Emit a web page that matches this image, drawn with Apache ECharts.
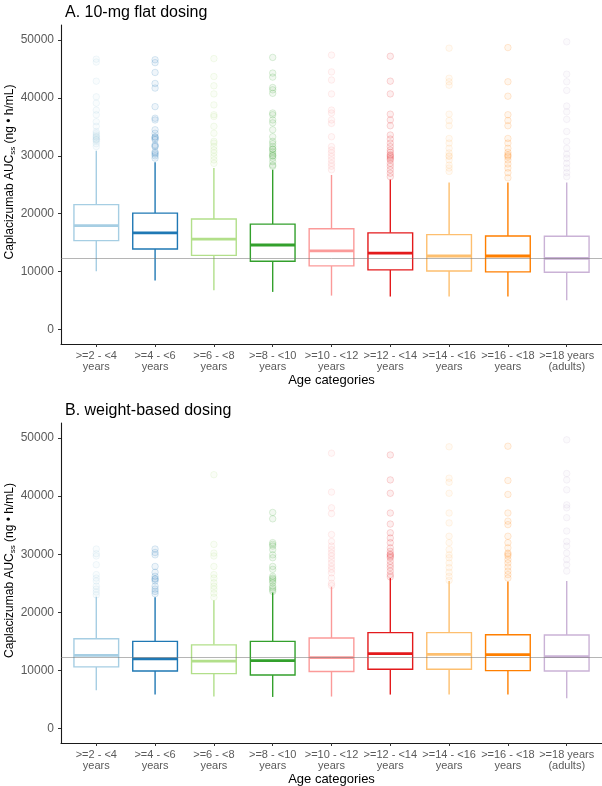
<!DOCTYPE html>
<html>
<head>
<meta charset="utf-8">
<script src="https://cdn.jsdelivr.net/npm/echarts@6/dist/echarts.min.js"></script>
<style>
html,body{margin:0;padding:0;background:#fff;}
#chart{width:602px;height:786px;}
</style>
</head>
<body>
<div id="chart"></div>
<script>
// ---------- data ----------
const categories = ['>=2 - <4\nyears', '>=4 - <6\nyears', '>=6 - <8\nyears', '>=8 - <10\nyears',
  '>=10 - <12\nyears', '>=12 - <14\nyears', '>=14 - <16\nyears', '>=16 - <18\nyears', '>=18 years\n(adults)'];

// [lower whisker, Q1, median, Q3, upper whisker]
const boxFlat = [
  [10050, 15350, 17950, 21580, 30900],
  [8450, 13900, 16700, 20100, 28900],
  [6800, 12800, 15600, 19100, 27900],
  [6500, 11800, 14600, 18200, 27600],
  [5860, 11000, 13600, 17400, 26700],
  [5700, 10300, 13200, 16700, 25900],
  [5700, 10100, 12700, 16400, 25400],
  [5700, 9950, 12700, 16150, 25400],
  [5050, 9900, 12300, 16100, 25400]
];
const boxWeight = [
  [6600, 10600, 12600, 15460, 22700],
  [5840, 9900, 12000, 15000, 22600],
  [5500, 9450, 11600, 14400, 22100],
  [5430, 9200, 11700, 15000, 23400],
  [5500, 9800, 12200, 15570, 24400],
  [5840, 10200, 12900, 16500, 25900],
  [5840, 10200, 12770, 16500, 25400],
  [5840, 9960, 12700, 16150, 25300],
  [5200, 9900, 12370, 16100, 25400]
];

const outFlat = [
  [46700, 46200, 42900, 40200, 39100, 37900, 37100, 35900, 35100, 34200, 33900, 33600, 33300, 33000, 32800, 32500, 32100, 31600, 33300, 32800],
  [46600, 46100, 44400, 42500, 41700, 38500, 36500, 36200, 34500, 33900, 33300, 33000, 32800, 31900, 31600, 30700, 30300, 30000, 29600, 33200, 31700, 30500],
  [46800, 43700, 42100, 40700, 38800, 37100, 36800, 35100, 33900, 32500, 32200, 31600, 31000, 30500, 29900, 29300, 28700],
  [47000, 44300, 43600, 41800, 41400, 40800, 37400, 37100, 36200, 35700, 34500, 33300, 32500, 32100, 31600, 31100, 30700, 30300, 30000, 29600, 29000, 28400, 28200, 30000, 31200],
  [47400, 44500, 43100, 40700, 37900, 37400, 36200, 35600, 33300, 31600, 31000, 30500, 29900, 29300, 28700, 28200, 27600],
  [47200, 42900, 40700, 37200, 36200, 35200, 33600, 32900, 32200, 31600, 31000, 30600, 30200, 29800, 29300, 28700, 28200, 27600, 27000, 26400, 30000, 29500],
  [48600, 43400, 42800, 42200, 37200, 36100, 35200, 33000, 32200, 31300, 30500, 29900, 29300, 28400, 27900, 27300, 30000],
  [48700, 42800, 40300, 37100, 36100, 35200, 33000, 32200, 31300, 30600, 30200, 29800, 29300, 28600, 27900, 27100, 26200, 30000],
  [49700, 44100, 42800, 41300, 38600, 37600, 36300, 34200, 32500, 31300, 30300, 29600, 28700, 27900, 27100, 26400]
];
const outWeight = [
  [30900, 30100, 29700, 28200, 26500, 25900, 25400, 24500, 24000, 23500, 23000],
  [30900, 30300, 29900, 27900, 26900, 26200, 25700, 25400, 24500, 24000, 23600, 23200, 25800],
  [43700, 31700, 30200, 29700, 27900, 26500, 25900, 25100, 24500, 24000, 23300, 22600],
  [37200, 36100, 32000, 31700, 31400, 30800, 29900, 29400, 27900, 27400, 26200, 25900, 25700, 25400, 25100, 24500, 24200, 23900, 23600],
  [47400, 40700, 38000, 37000, 33400, 32200, 31400, 30800, 30200, 29700, 29100, 28500, 27900, 27400, 26800, 25900, 25000, 24600],
  [47100, 42800, 40500, 37100, 35200, 33700, 32800, 32000, 31100, 30500, 29900, 29400, 28800, 28200, 27700, 27100, 26500, 26100, 30000, 29600],
  [48500, 43100, 42400, 40500, 37100, 35400, 33100, 32000, 30800, 29900, 29400, 28500, 27700, 26900, 26200, 25500],
  [48600, 42700, 40300, 37100, 35700, 35100, 33100, 32000, 31100, 30200, 29700, 29100, 28500, 27800, 27100, 26500, 25900, 30000],
  [49700, 43900, 42800, 41100, 38500, 38000, 36300, 34000, 32200, 31400, 30200, 29100, 28200, 27100]
];

const referenceValue = 12350;
const yTicks = [0, 10000, 20000, 30000, 40000, 50000];
const xTicks = [0, 1, 2, 3, 4, 5, 6, 7, 8];
const panelTitles = ['A. 10-mg flat dosing', 'B. weight-based dosing'];
const xTitle = 'Age categories';

// ---------- style ----------
const palette = ['#A6CEE3', '#1F78B4', '#B2DF8A', '#33A02C', '#FB9A99', '#E31A1C', '#FDBF6F', '#FF7F00', '#CAB2D6'];
const FONT = '"Liberation Sans", Helvetica, Arial, sans-serif';

function hexA(hex, a) {
  const n = parseInt(hex.slice(1), 16);
  return 'rgba(' + ((n >> 16) & 255) + ',' + ((n >> 8) & 255) + ',' + (n & 255) + ',' + a + ')';
}

function renderBox(params, api) {
  const i = api.value(0);
  const x = api.coord([i, 0])[0];
  const pLo = api.coord([i, api.value(1)])[1];
  const pQ1 = api.coord([i, api.value(2)])[1];
  const pMed = api.coord([i, api.value(3)])[1];
  const pQ3 = api.coord([i, api.value(4)])[1];
  const pHi = api.coord([i, api.value(5)])[1];
  const w = api.size([0.76, 0])[0];
  const c = palette[i];
  const lw = 1.4;
  return {
    type: 'group',
    children: [
      {type: 'line', shape: {x1: x, y1: pHi, x2: x, y2: pQ3}, style: {stroke: c, lineWidth: lw}},
      {type: 'line', shape: {x1: x, y1: pQ1, x2: x, y2: pLo}, style: {stroke: c, lineWidth: lw}},
      {type: 'rect', shape: {x: x - w / 2, y: pQ3, width: w, height: pQ1 - pQ3}, style: {fill: '#fff', stroke: c, lineWidth: lw}},
      {type: 'line', shape: {x1: x - w / 2, y1: pMed, x2: x + w / 2, y2: pMed}, style: {stroke: c, lineWidth: 2.8}}
    ]
  };
}

const grids = [
  {left: 61, right: 0, top: 25, height: 319, outerBoundsMode: 'none', containLabel: false},
  {left: 61, right: 0, top: 423, height: 320, outerBoundsMode: 'none', containLabel: false}
];

function xAxis(gi) {
  return {
    type: 'value', gridIndex: gi, min: -0.6, max: 8.6,
    axisLine: {show: true, onZero: false, lineStyle: {color: '#1a1a1a', width: 1.1}},
    axisTick: {show: true, length: 3, customValues: xTicks, lineStyle: {color: '#333'}},
    axisLabel: {customValues: xTicks, formatter: v => categories[Math.round(v)], color: '#5a5a5a',
      fontSize: 11, lineHeight: 11.5, margin: 6, fontFamily: FONT, align: 'center'},
    splitLine: {show: false},
    name: xTitle, nameLocation: 'middle', nameGap: 30, nameMoveOverlap: false,
    nameTextStyle: {color: '#000', fontSize: 13, fontFamily: FONT}
  };
}
function yAxis(gi) {
  return {
    type: 'value', gridIndex: gi, min: -2500, max: 52600,
    axisLine: {show: true, onZero: false, lineStyle: {color: '#1a1a1a', width: 1.1}},
    axisTick: {show: true, length: 3, customValues: yTicks, lineStyle: {color: '#333'}},
    axisLabel: {customValues: yTicks, formatter: v => String(v), color: '#5a5a5a', fontSize: 12, margin: 7, fontFamily: FONT},
    splitLine: {show: false},
    name: '{a|Caplacizumab AUC}{s|ss}{a| (ng \u2022 h/mL)}',
    nameLocation: 'middle', nameGap: 44, nameRotate: 90, nameMoveOverlap: false,
    nameTextStyle: {
      color: '#000', fontSize: 12, fontFamily: FONT, padding: [0, 0, 0, 25],
      rich: {
        a: {fontSize: 12, color: '#000', fontFamily: FONT, lineHeight: 15, verticalAlign: 'middle'},
        s: {fontSize: 8, color: '#000', fontFamily: FONT, lineHeight: 8, verticalAlign: 'bottom'}
      }
    }
  };
}

const series = [];
[[boxFlat, outFlat], [boxWeight, outWeight]].forEach(([boxes, outs], gi) => {
  const pts = [];
  outs.forEach((arr, i) => arr.forEach(v => pts.push({
    value: [i, v],
    itemStyle: {color: hexA(palette[i], 0.09), borderColor: hexA(palette[i], 0.2), borderWidth: 1}
  })));
  series.push({
    type: 'scatter', xAxisIndex: gi, yAxisIndex: gi, silent: true, z: 1,
    symbol: 'circle', symbolSize: 6.5,
    data: pts
  });
  series.push({
    type: 'custom', xAxisIndex: gi, yAxisIndex: gi, silent: true, z: 2,
    renderItem: renderBox,
    encode: {x: 0, y: [1, 2, 3, 4, 5]},
    data: boxes.map((b, i) => [i].concat(b))
  });
  series.push({
    type: 'line', xAxisIndex: gi, yAxisIndex: gi, silent: true, z: 3, data: [],
    markLine: {
      silent: true, symbol: ['none', 'none'], label: {show: false},
      lineStyle: {color: 'rgba(120,120,120,0.55)', width: 1, type: 'solid'},
      data: [{yAxis: referenceValue}]
    }
  });
});

const chart = echarts.init(document.getElementById('chart'), null, {renderer: 'canvas'});
chart.setOption({
  backgroundColor: '#fff',
  animation: false,
  title: [
    {text: panelTitles[0], left: 60, top: 0, textStyle: {fontSize: 16, fontWeight: 'normal', color: '#000', fontFamily: FONT}},
    {text: panelTitles[1], left: 60, top: 398, textStyle: {fontSize: 16, fontWeight: 'normal', color: '#000', fontFamily: FONT}}
  ],
  grid: grids,
  xAxis: [xAxis(0), xAxis(1)],
  yAxis: [yAxis(0), yAxis(1)],
  series: series
});
</script>
</body>
</html>
